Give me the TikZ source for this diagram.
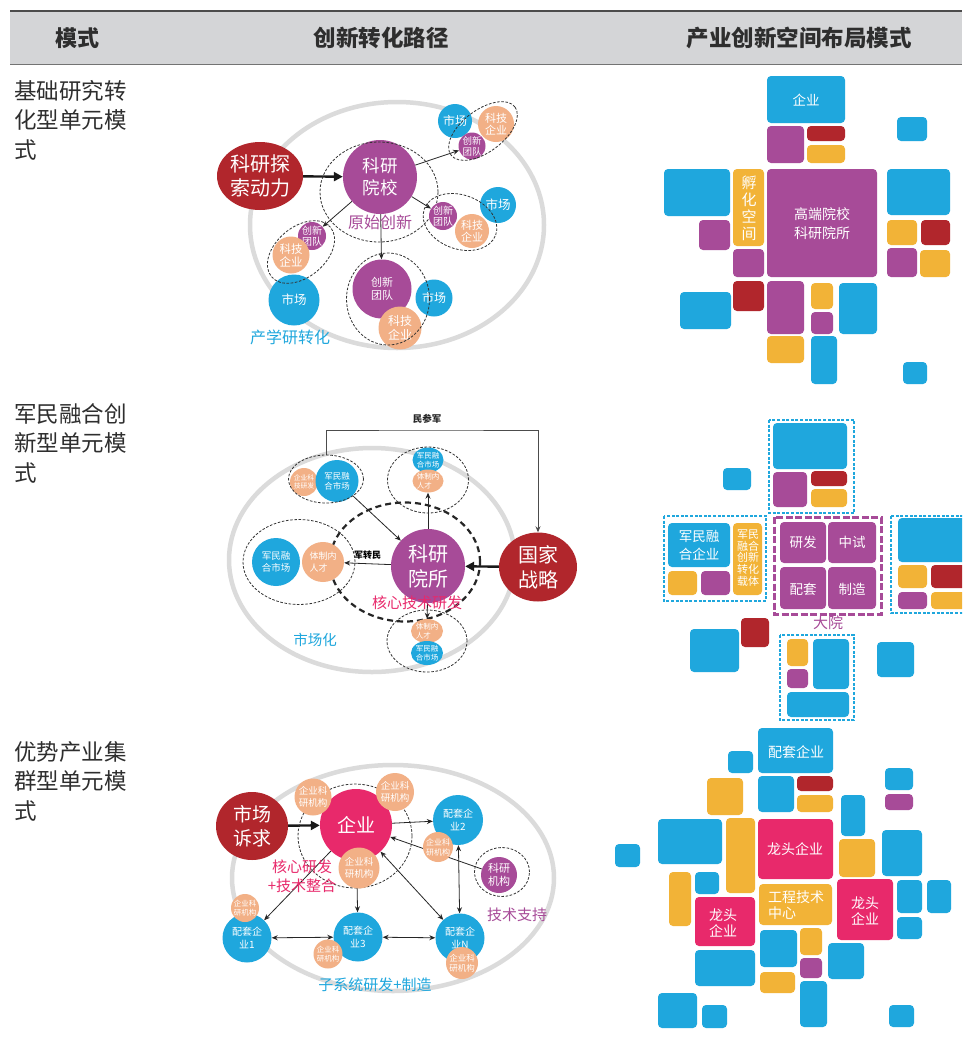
\documentclass[tikz,border=0pt]{standalone}
\usepackage{fontspec}
\setmainfont{Noto Sans CJK SC}
\usetikzlibrary{shapes.geometric,arrows.meta}
\definecolor{cblue}{HTML}{1FA7DD}
\definecolor{cpurple}{HTML}{A74B98}
\definecolor{cred}{HTML}{B1262C}
\definecolor{cyellow}{HTML}{F2B337}
\definecolor{csalmon}{HTML}{F2B086}
\definecolor{cpink}{HTML}{E8296B}
\definecolor{cring}{HTML}{DBDBDB}
\definecolor{chead}{HTML}{D4D5D7}
\definecolor{ctext}{HTML}{2E2E2E}
\newcommand\fs[2]{\fontsize{#1}{#2}\selectfont}
\newcommand\tile[5]{\fill[#1,rounded corners=4pt] (#2,#3) rectangle (#4,#5);}
\newcommand\mkball[8][]{%
  \node[circle, fill=#2, minimum size=#5pt, inner sep=0pt] (#3) at (#4) {};
  \node[align=center, inner sep=0pt, text=white, font={\fs{#6}{#7}}, #1] (#3t) at (#3) {#8};}
\newcommand\mkell[9][]{%
  \node[ellipse, fill=#2, minimum width=#5pt, minimum height=#6pt, inner sep=0pt] (#3) at (#4) {};
  \node[align=center, inner sep=0pt, text=white, font={\fs{#7}{#8}}, #1] (#3t) at (#3) {#9};}
\pgfdeclarelayer{bg}
\pgfsetlayers{bg,main}
\begin{document}
\begin{tikzpicture}[x=1pt,y=-1pt,
  dring/.style={ellipse, draw=black!80, dash pattern=on 2.6pt off 1.6pt, line width=0.8pt, inner sep=0pt},
  ring/.style={ellipse, draw=cring, line width=4.5pt, inner sep=0pt},
  arr/.style={-{Stealth[length=6pt,width=5pt]}, line width=0.8pt, black!85},
  darr/.style={{Stealth[length=6pt,width=5pt]}-{Stealth[length=6pt,width=5pt]}, line width=0.8pt, black!85},
  bigarr/.style={-{Triangle[length=9pt,width=9pt]}, line width=2.4pt, black!90},
  lbl/.style={inner sep=0pt, align=center},
  cdash/.style={draw=cblue, line width=1.2pt, dash pattern=on 3pt off 1.6pt},
  pdash/.style={draw=cpurple, line width=3pt, dash pattern=on 7pt off 2.5pt},
]
\useasboundingbox (0,0) rectangle (962,1053);
\clip (0,0) rectangle (962,1053);
\begin{pgfonlayer}{bg}
\fill[white] (0,0) rectangle (962,1053);
\end{pgfonlayer}

% ---------------- header
\fill[chead] (10,11) rectangle (962,64);
\draw[line width=1.3pt, black!70] (10,11) -- (962,11);
\draw[line width=1pt, black!55] (10,64) -- (962,64);
\node[lbl, text=ctext, font={\fs{22}{26}\bfseries}] (h1) at (77,38) {模式};
\node[lbl, text=ctext, font={\fs{22.5}{26}\bfseries}] (h2) at (381,38) {创新转化路径};
\node[lbl, text=ctext, font={\fs{22.5}{26}\bfseries}] (h3) at (799,38) {产业创新空间布局模式};

% ---------------- left labels
\node[anchor=north west, align=left, inner sep=0pt, text=ctext, font={\fs{22.5}{29.5}}] (lab1) at (14,80) {基础研究转\\化型单元模\\式};
\node[anchor=north west, align=left, inner sep=0pt, text=ctext, font={\fs{22.5}{29.5}}] (lab2) at (14,403) {军民融合创\\新型单元模\\式};
\node[anchor=north west, align=left, inner sep=0pt, text=ctext, font={\fs{22.5}{29.5}}] (lab3) at (14,741) {优势产业集\\群型单元模\\式};

% ---------------- rings (background)
\begin{pgfonlayer}{bg}
\node[ring, minimum width=294pt, minimum height=246pt] (r1ring) at (397,225) {};
\node[ring, minimum width=286pt, minimum height=224pt] (r2ring) at (372,560) {};
\node[ring, minimum width=322pt, minimum height=226pt] (r3ring) at (393,878) {};
\end{pgfonlayer}

% ================= ROW 1 middle
\mkell{cred}{r1drive}{260,176}{86}{68}{20}{24}{科研探\\索动力}
\mkball{cpurple}{r1core}{380,177}{74}{17.5}{22}{科研\\院校}
\node[dring, minimum width=118pt, minimum height=100pt] (r1coreD) at (379,192) {};
\node[lbl, text=cpurple, font={\fs{16}{18}}] (r1orig) at (380,222) {原始创新};
% top-right group
\mkball{cblue}{r1m1}{455,121}{34}{12}{14}{市场}
\mkball{csalmon}{r1k1}{496,124}{36}{11}{12.5}{科技\\企业}
\mkball{cpurple}{r1t1}{472,146}{27}{9.5}{11}{创新\\团队}
\node[dring, minimum width=80pt, minimum height=42pt, rotate=37] (r1g1) at (483,131) {};
% right group
\mkball{cpurple}{r1t2}{443,216}{28}{10}{11.5}{创新\\团队}
\mkball{csalmon}{r1k2}{472,231}{34}{11}{12.5}{科技\\企业}
\mkball{cblue}{r1m2}{498,205}{36}{12.5}{14}{市场}
\node[dring, minimum width=76pt, minimum height=54pt, rotate=-20] (r1g2) at (460,222) {};
% left group
\mkball{cpurple}{r1t3}{312,236}{28}{10}{11.5}{创新\\团队}
\mkball{csalmon}{r1k3}{291,255}{37}{11.5}{13}{科技\\企业}
\mkball{cblue}{r1m3}{294,300}{51}{12.5}{14}{市场}
\node[dring, minimum width=77pt, minimum height=50pt, rotate=40] (r1g3) at (301,252) {};
% bottom group
\mkball{cpurple}{r1t4}{382,289}{59}{11}{13}{创新\\团队}
\mkball{cblue}{r1m4}{434,298}{37}{12}{14}{市场}
\mkball{csalmon}{r1k4}{400,328}{43}{12}{13.5}{科技\\企业}
\node[dring, minimum width=83pt, minimum height=92pt] (r1g4) at (388,299) {};
\node[lbl, text=cblue, font={\fs{16}{18}}] (r1lab) at (290,337) {产学研转化};
\begin{pgfonlayer}{bg}
\draw[bigarr] (r1drive) -- (r1core);
\draw[arr] (r1core) -- (r1t1);
\draw[arr] (r1core) -- (r1t2);
\draw[arr] (r1core) -- (r1t3);
\draw[arr] (r1core) -- (r1t4);
\end{pgfonlayer}

% ================= ROW 2 middle
\mkell{cred}{r2nat}{538,567}{78}{69}{20}{25}{国家\\战略}
\mkball{cpurple}{r2core}{428,566}{74}{20}{25}{科研\\院所}
\node[ellipse, draw=black!85, line width=2.2pt, dash pattern=on 6pt off 4pt, minimum width=150pt, minimum height=119pt, inner sep=0pt] (r2D) at (405,562) {};
\node[lbl, text=cpink, font={\fs{15}{17}}] (r2corelab) at (417,603) {核心技术研发};
% top-left group
\mkball{csalmon}{r2a1}{304,482}{28}{6.8}{8}{企业科\\技研发}
\mkell{cblue}{r2b1}{337,481}{43}{42}{8.5}{10}{军民融\\合市场}
\node[dring, minimum width=75pt, minimum height=48pt] (r2g1) at (326,479) {};
% top-right group
\mkell{cblue}{r2b2}{428,460}{31}{25}{7.5}{8.5}{军民融\\合市场}
\mkell[align=left]{csalmon}{r2a2}{428,481}{31}{23}{7.5}{8.5}{体制内\\人才}
\node[dring, minimum width=81pt, minimum height=66pt] (r2g2) at (428,480) {};
% left group
\mkball{cblue}{r2b3}{276,562}{48}{9.5}{12}{军民融\\合市场}
\mkell[align=left]{csalmon}{r2a3}{323,562}{42}{40}{9}{12}{体制内\\人才}
\node[dring, minimum width=112pt, minimum height=85pt] (r2g3) at (299,562) {};
% bottom group
\mkell[align=left]{csalmon}{r2a4}{427,631}{32}{24}{7.5}{8.5}{体制内\\人才}
\mkell{cblue}{r2b4}{427,653}{32}{24}{7.5}{8.5}{军民融\\合市场}
\node[dring, minimum width=80pt, minimum height=62pt] (r2g4) at (427,641) {};
\node[lbl, text=cblue, font={\fs{14.5}{17}}] (r2lab) at (315,640) {市场化};
\coordinate (r2top) at (430,430);
\begin{pgfonlayer}{bg}
\draw[arr, black!70] (r2g1.north) |- (r2top) -| (r2nat.north);
\draw[bigarr] (r2nat) -- (r2core);
\draw[arr] (r2b1) -- (r2core);
\draw[arr] (r2core) -- (r2a2);
\draw[arr] (r2core) -- (r2a3) node[midway, above=1pt, text=black, font={\fs{9}{11}\bfseries}] (r2jzm) {军转民};
\draw[arr] (r2core) -- (r2a4);
\end{pgfonlayer}
\node[lbl, text=black!85, font={\fs{9.5}{11}\bfseries}] (r2mcj) at (427,419) {民参军};

% ================= ROW 3 middle
\mkell{cred}{r3drive}{252,826}{72}{68}{19}{24}{市场\\诉求}
\mkball{cpink}{r3core}{356,825}{72}{19}{22}{企业}
\node[dring, minimum width=114pt, minimum height=104pt] (r3coreD) at (355,836) {};
\mkball{csalmon}{r3o1}{313,797}{37}{9.5}{12}{企业科\\研机构}
\mkball{csalmon}{r3o2}{395,792}{38}{9.5}{12}{企业科\\研机构}
\mkball{csalmon}{r3o3}{359,868}{41}{9.5}{12}{企业科\\研机构}
\mkball{cblue}{r3b2}{458,820}{50}{10}{13}{配套企\\业2}
\mkball{csalmon}{r3o4}{438,847}{30}{8}{10}{企业科\\研机构}
\mkball{cpurple}{r3res}{499,875}{36}{11}{13}{科研\\机构}
\node[dring, minimum width=55pt, minimum height=49pt] (r3resD) at (502,872) {};
\mkball{cblue}{r3b1}{247,938}{49}{10}{13}{配套企\\业1}
\mkball{csalmon}{r3o5}{245,908}{28}{7.5}{9.5}{企业科\\研机构}
\mkball{cblue}{r3b3}{358,937}{49}{10}{13}{配套企\\业3}
\mkball{csalmon}{r3o6}{328,954}{29}{7.5}{9.5}{企业科\\研机构}
\mkball{cblue}{r3bN}{460,938}{49}{10}{13}{配套企\\业N}
\mkball{csalmon}{r3o7}{462,963}{32}{8.5}{10.5}{企业科\\研机构}
\node[lbl, text=cpink, font={\fs{15}{19}}] (r3corelab) at (302,876) {核心研发\\+技术整合};
\node[lbl, text=cpurple, font={\fs{15}{17}}] (r3reslab) at (517,915) {技术支持};
\node[lbl, text=cblue, font={\fs{15}{17}}] (r3lab) at (375,985) {子系统研发+制造};
\begin{pgfonlayer}{bg}
\draw[bigarr] (r3drive) -- (r3core);
\draw[arr] (r3core) -- (r3b2);
\draw[arr] (r3res) -- (r3core);
\draw[arr] (r3core) -- (r3b1);
\draw[arr] (r3core) -- (r3b3);
\draw[darr] (r3core) -- (r3bN);
\draw[darr] (r3b2) -- (r3bN);
\draw[darr] (r3b1) -- (r3b3);
\draw[darr] (r3b3) -- (r3bN);
\end{pgfonlayer}

% ================= ROW 1 right
\tile{cblue}{767}{76}{845}{123}
\tile{cpurple}{767}{126}{804}{163}
\tile{cred}{807}{126}{845}{141}
\tile{cyellow}{807}{145}{845}{163}
\tile{cblue}{897}{117}{927}{141}
\tile{cblue}{664}{169}{730}{216}
\tile{cyellow}{733}{169}{764}{246}
\tile{cpurple}{767}{169}{877}{277}
\tile{cblue}{887}{169}{950}{215}
\tile{cpurple}{699}{220}{730}{250}
\tile{cpurple}{733}{249}{764}{277}
\tile{cyellow}{887}{220}{917}{245}
\tile{cred}{921}{220}{950}{245}
\tile{cpurple}{887}{248}{917}{277}
\tile{cyellow}{920}{250}{950}{277}
\tile{cred}{733}{281}{764}{311}
\tile{cblue}{680}{292}{731}{329}
\tile{cpurple}{767}{281}{804}{334}
\tile{cyellow}{811}{283}{833}{309}
\tile{cpurple}{811}{312}{833}{334}
\tile{cblue}{839}{283}{877}{334}
\tile{cyellow}{767}{336}{804}{363}
\tile{cblue}{811}{336}{837}{384}
\tile{cblue}{903}{362}{927}{384}
\node[lbl, text=white, font={\fs{13.5}{16}}] (p1a) at (806,100) {企业};
\node[lbl, text=white, font={\fs{15}{17}}] (p1b) at (749,208) {孵\\化\\空\\间};
\node[lbl, text=white, font={\fs{14}{19}}] (p1c) at (822,224) {高端院校\\科研院所};

% ================= ROW 2 right
\draw[cdash] (769,420) rectangle (854,513);
\tile{cblue}{773}{423}{847}{469}
\tile{cpurple}{773}{472}{807}{507}
\tile{cred}{811}{471}{847}{486}
\tile{cyellow}{811}{489}{847}{507}
\tile{cblue}{723}{468}{751}{490}
\draw[cdash] (664,516) rectangle (766,601);
\tile{cblue}{668}{523}{730}{567}
\tile{cyellow}{733}{523}{762}{595}
\tile{cyellow}{668}{571}{697}{595}
\tile{cpurple}{701}{571}{730}{595}
\draw[pdash] (774,517) rectangle (881,614);
\tile{cpurple}{780}{522}{826}{563}
\tile{cpurple}{828}{522}{876}{563}
\tile{cpurple}{780}{567}{826}{609}
\tile{cpurple}{828}{567}{876}{609}
\draw[cdash] (891,516) rectangle (975,613);
\tile{cblue}{898}{518}{975}{562}
\tile{cyellow}{898}{565}{927}{588}
\tile{cred}{931}{565}{975}{588}
\tile{cpurple}{898}{592}{927}{609}
\tile{cyellow}{931}{592}{975}{609}
\tile{cred}{741}{618}{769}{647}
\tile{cblue}{690}{629}{739}{672}
\draw[cdash] (780,635) rectangle (854,720);
\tile{cyellow}{787}{639}{808}{666}
\tile{cpurple}{787}{669}{808}{688}
\tile{cblue}{813}{639}{849}{689}
\tile{cblue}{787}{692}{849}{717}
\tile{cblue}{877}{642}{914}{677}
\node[lbl, text=white, font={\fs{13.5}{18}}] (p2a) at (699,545) {军民融\\合企业};
\node[lbl, text=white, font={\fs{11}{11.7}}] (p2b) at (748,558) {军民\\融合\\创新\\转化\\载体};
\node[lbl, text=white, font={\fs{13.5}{16}}] (p2c) at (803,542) {研发};
\node[lbl, text=white, font={\fs{13.5}{16}}] (p2d) at (852,542) {中试};
\node[lbl, text=white, font={\fs{13.5}{16}}] (p2e) at (803,589) {配套};
\node[lbl, text=white, font={\fs{13.5}{16}}] (p2f) at (852,589) {制造};
\node[lbl, text=cpurple, font={\fs{15}{17}}] (p2g) at (828,623) {大院};

% ================= ROW 3 right
\tile{cblue}{758}{728}{833}{773}
\tile{cblue}{728}{751}{753}{773}
\tile{cblue}{758}{776}{794}{812}
\tile{cred}{797}{776}{833}{791}
\tile{cyellow}{797}{795}{833}{812}
\tile{cyellow}{707}{778}{743}{815}
\tile{cblue}{885}{768}{913}{790}
\tile{cpurple}{885}{794}{913}{810}
\tile{cblue}{841}{795}{865}{836}
\tile{cblue}{658}{819}{722}{864}
\tile{cyellow}{726}{818}{755}{893}
\tile{cpink}{758}{819}{833}{879}
\tile{cyellow}{839}{839}{875}{877}
\tile{cblue}{882}{830}{922}{876}
\tile{cblue}{615}{844}{640}{867}
\tile{cyellow}{669}{872}{691}{926}
\tile{cblue}{695}{872}{719}{894}
\tile{cpink}{695}{897}{755}{946}
\tile{cyellow}{759}{884}{832}{925}
\tile{cpink}{837}{879}{893}{940}
\tile{cblue}{897}{880}{922}{913}
\tile{cblue}{927}{880}{951}{913}
\tile{cblue}{897}{917}{922}{939}
\tile{cblue}{760}{930}{797}{967}
\tile{cyellow}{800}{928}{822}{955}
\tile{cpurple}{800}{958}{822}{978}
\tile{cblue}{828}{943}{864}{979}
\tile{cblue}{695}{950}{755}{986}
\tile{cyellow}{760}{972}{795}{993}
\tile{cblue}{800}{981}{827}{1027}
\tile{cblue}{658}{993}{697}{1028}
\tile{cblue}{702}{1005}{727}{1028}
\tile{cblue}{889}{1005}{914}{1027}
\node[lbl, text=white, font={\fs{14}{16}}] (p3a) at (796,752) {配套企业};
\node[lbl, text=white, font={\fs{14}{16}}] (p3b) at (795,849) {龙头企业};
\node[lbl, text=white, font={\fs{14}{15.5}}] (p3c) at (723,923) {龙头\\企业};
\node[lbl, text=white, anchor=west, align=left, font={\fs{14}{16}}] (p3d) at (768,905) {工程技术\\中心};
\node[lbl, text=white, font={\fs{14}{16}}] (p3e) at (865,911) {龙头\\企业};
\end{tikzpicture}
\end{document}
